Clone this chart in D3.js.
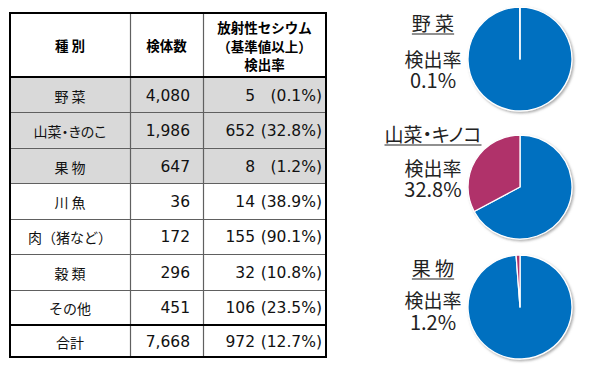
<!DOCTYPE html>
<html>
<head>
<meta charset="utf-8">
<script src="https://cdn.jsdelivr.net/npm/d3@7"></script>
<style>
  body { margin: 0; background: #fff; }
  svg text.palt { font-feature-settings: "palt"; }
</style>
</head>
<body>
<div id="chart"></div>
<script>
// table data
var categories = ["野 菜", "山菜・きのこ", "果 物", "川 魚", "肉（猪など）", "穀 類", "その他"];
var samples = ["4,080", "1,986", "647", "36", "172", "296", "451"];
var detected = ["5", "652", "8", "14", "155", "32", "106"];
var rates = ["(0.1%)", "(32.8%)", "(1.2%)", "(38.9%)", "(90.1%)", "(10.8%)", "(23.5%)"];
var total = { label: "合計", samples: "7,668", detected: "972", rate: "(12.7%)" };
var headers = ["種 別", "検体数", ["放射性セシウム", "（基準値以上）", "検出率"]];

// pie data
var pieNames = ["野 菜", "山菜・キノコ", "果 物"];
var pieRates = [0.1, 32.8, 1.2];

var width = 600, height = 374;

var svg = d3.select("#chart")
  .append("svg")
    .attr("width", width)
    .attr("height", height);

var defs = svg.append("defs");
defs.append("filter")
    .attr("id", "shadow")
    .attr("x", "-20%").attr("y", "-20%")
    .attr("width", "140%").attr("height", "140%")
  .append("feDropShadow")
    .attr("dx", 1.5).attr("dy", 1.5)
    .attr("stdDeviation", 1.2)
    .attr("flood-color", "#777")
    .attr("flood-opacity", 0.6);

// narrow spacing only for strings with the middle dot
var palt = function(d) { return d.indexOf("・") >= 0 ? "palt" : null; };

/* ---------- table ---------- */
var tLeft = 10, tRight = 326, tTop = 13, headBottom = 77, rowsBottom = 325, tBottom = 357;
var col1 = 130, col2 = 203;

var y = d3.scaleBand()
  .domain(categories)
  .range([headBottom, rowsBottom]);

var table = svg.append("g");

// shaded rows
table.selectAll("rect.shade")
  .data(categories.slice(0, 3))
  .enter()
  .append("rect")
    .attr("x", tLeft)
    .attr("y", function(d) { return y(d); })
    .attr("width", tRight - tLeft)
    .attr("height", y.bandwidth())
    .attr("fill", "#d9d9d9");

// row separators
table.selectAll("line.row")
  .data(categories.slice(1))
  .enter()
  .append("line")
    .attr("x1", tLeft).attr("x2", tRight)
    .attr("y1", function(d) { return Math.round(y(d)) + 0.5; })
    .attr("y2", function(d) { return Math.round(y(d)) + 0.5; })
    .attr("stroke", "#606060")
    .attr("stroke-width", 1);

// column separators
[col1, col2].forEach(function(cx) {
  table.append("line")
    .attr("x1", cx + 0.5).attr("x2", cx + 0.5)
    .attr("y1", tTop).attr("y2", tBottom)
    .attr("stroke", "#606060")
    .attr("stroke-width", 1.2);
});

// thick lines
[headBottom, rowsBottom].forEach(function(ly) {
  table.append("line")
    .attr("x1", tLeft).attr("x2", tRight)
    .attr("y1", ly).attr("y2", ly)
    .attr("stroke", "#000")
    .attr("stroke-width", 2);
});

table.append("rect")
  .attr("x", tLeft).attr("y", tTop)
  .attr("width", tRight - tLeft).attr("height", tBottom - tTop)
  .attr("fill", "none")
  .attr("stroke", "#000")
  .attr("stroke-width", 2);

var jp = "'Noto Sans CJK JP', sans-serif";
var num = "'DejaVu Sans', 'Noto Sans CJK JP', sans-serif";

// header
var hMid = (tTop + headBottom) / 2;
table.append("text")
  .attr("x", (tLeft + col1) / 2).attr("y", hMid)
  .attr("text-anchor", "middle").attr("dominant-baseline", "central")
  .style("font-family", jp).style("font-size", "13.5px").style("font-weight", 700)
  .style("white-space", "pre")
  .text(headers[0]);
table.append("text")
  .attr("x", (col1 + col2) / 2).attr("y", hMid)
  .attr("text-anchor", "middle").attr("dominant-baseline", "central")
  .style("font-family", jp).style("font-size", "13.5px").style("font-weight", 700)
  .text(headers[1]);
table.selectAll("text.h3")
  .data(headers[2])
  .enter()
  .append("text")
    .attr("x", (col2 + tRight) / 2)
    .attr("y", function(d, i) { return hMid + 0.5 + (i - 1) * 18.5; })
    .attr("text-anchor", "middle").attr("dominant-baseline", "central")
    .style("font-family", jp).style("font-size", "13.5px").style("font-weight", 700)
    .text(function(d) { return d; });

// body rows
var rowMid = function(d) { return y(d) + y.bandwidth() / 2 + 1; };

table.selectAll("text.cat")
  .data(categories)
  .enter()
  .append("text")
    .attr("class", palt)
    .attr("x", (tLeft + col1) / 2)
    .attr("y", rowMid)
    .attr("text-anchor", "middle").attr("dominant-baseline", "central")
    .style("font-family", jp).style("font-size", "14px")
    .style("white-space", "pre")
    .attr("fill", "#111")
    .text(function(d) { return d; });

table.selectAll("text.samples")
  .data(categories)
  .enter()
  .append("text")
    .attr("x", 190)
    .attr("y", rowMid)
    .attr("text-anchor", "end").attr("dominant-baseline", "central")
    .style("font-family", num).style("font-size", "15.5px")
    .attr("fill", "#111")
    .text(function(d, i) { return samples[i]; });

table.selectAll("text.det")
  .data(categories)
  .enter()
  .append("text")
    .attr("x", 255)
    .attr("y", rowMid)
    .attr("text-anchor", "end").attr("dominant-baseline", "central")
    .style("font-family", num).style("font-size", "15.5px")
    .attr("fill", "#111")
    .text(function(d, i) { return detected[i]; });

table.selectAll("text.rate")
  .data(categories)
  .enter()
  .append("text")
    .attr("x", 322)
    .attr("y", rowMid)
    .attr("text-anchor", "end").attr("dominant-baseline", "central")
    .style("font-family", num).style("font-size", "15.5px")
    .attr("fill", "#111")
    .text(function(d, i) { return rates[i]; });

// total row
var totMid = (rowsBottom + tBottom) / 2 + 1;
table.append("text")
  .attr("x", (tLeft + col1) / 2).attr("y", totMid)
  .attr("text-anchor", "middle").attr("dominant-baseline", "central")
  .style("font-family", jp).style("font-size", "14px").attr("fill", "#111")
  .text(total.label);
table.append("text")
  .attr("x", 190).attr("y", totMid)
  .attr("text-anchor", "end").attr("dominant-baseline", "central")
  .style("font-family", num).style("font-size", "15.5px").attr("fill", "#111")
  .text(total.samples);
table.append("text")
  .attr("x", 255).attr("y", totMid)
  .attr("text-anchor", "end").attr("dominant-baseline", "central")
  .style("font-family", num).style("font-size", "15.5px").attr("fill", "#111")
  .text(total.detected);
table.append("text")
  .attr("x", 322).attr("y", totMid)
  .attr("text-anchor", "end").attr("dominant-baseline", "central")
  .style("font-family", num).style("font-size", "15.5px").attr("fill", "#111")
  .text(total.rate);

/* ---------- pies ---------- */
var pieLayout = [
  { cy: 59, title: 31, gap1: 36, gap2: 57 },
  { cy: 187, title: 142, gap1: 34, gap2: 55 },
  { cy: 307, title: 276, gap1: 32, gap2: 54 }
];
var pieCx = 520, radius = 52, labelX = 433;
var pieColor = ["#0070c0", "#b0306a"];

var pie = d3.pie().sort(null).value(function(d) { return d; });
var arc = d3.arc().innerRadius(0).outerRadius(radius);

pieNames.forEach(function(name, i) {
  var lay = pieLayout[i];
  var g = svg.append("g")
    .attr("transform", "translate(" + pieCx + "," + lay.cy + ")");

  var slices = g.append("g").attr("filter", "url(#shadow)");
  slices.selectAll("path")
    .data(pie([100 - pieRates[i], pieRates[i]]))
    .enter()
    .append("path")
      .attr("d", arc)
      .attr("fill", function(d, j) { return pieColor[j]; })
      .attr("stroke", "#fff")
      .attr("stroke-width", 1.3)
      .attr("stroke-linejoin", "round");

  var title = svg.append("text")
    .attr("class", palt(name))
    .attr("x", labelX).attr("y", lay.title)
    .attr("text-anchor", "middle")
    .style("font-family", jp).style("font-size", "19px").style("font-weight", 400)
    .style("white-space", "pre")
    .attr("fill", "#222")
    .text(name);
  var tw = title.node().getComputedTextLength();
  svg.append("line")
    .attr("x1", labelX - tw / 2).attr("x2", labelX + tw / 2)
    .attr("y1", lay.title + 3).attr("y2", lay.title + 3)
    .attr("stroke", "#222").attr("stroke-width", 1.2);

  svg.append("text")
    .attr("x", labelX).attr("y", lay.title + lay.gap1)
    .attr("text-anchor", "middle")
    .style("font-family", jp).style("font-size", "19px")
    .attr("fill", "#222")
    .text("検出率");
  svg.append("text")
    .attr("x", labelX).attr("y", lay.title + lay.gap2)
    .attr("text-anchor", "middle")
    .style("font-family", jp).style("font-size", "20px")
    .attr("fill", "#222")
    .text(pieRates[i] + "%");
});
</script>
</body>
</html>
